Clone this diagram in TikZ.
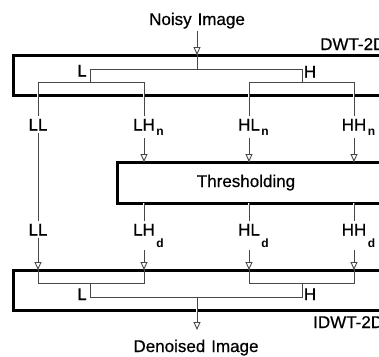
\documentclass[tikz,border=0pt]{standalone}
\usepackage{fontspec}
\setmainfont{Liberation Sans}[FakeBold=0.5]
\newfontfamily\subfont{Liberation Sans Bold}
\usetikzlibrary{arrows.meta}
\newcommand\lowsub[2]{\rlap{\kern1.5pt\raisebox{-#2}{\subfont\fontsize{12}{12}\selectfont #1}}}
\begin{document}
\begin{tikzpicture}[x=1pt,y=-1pt,
  txt/.style={font=\fontsize{17}{17}\selectfont, inner sep=2.5pt},
  boxline/.style={draw=black, line width=3pt, inner sep=0pt, outer sep=0pt},
  thin/.style={draw=black!72, line width=0.9pt},
  gap/.style={preaction={draw=white,line width=2.8pt}},
  tip/.style={-{Triangle[length=8pt,width=7pt,fill=white]}}]
\useasboundingbox (0,0) rectangle (379,356);
\clip (0,0) rectangle (379,356);
\fill[white] (0,0) rectangle (379,356);

% boxes
\node[boxline, minimum width=387pt, minimum height=40pt] (dwt) at (206.5,75) {};
\node[boxline, minimum width=283pt, minimum height=41pt] (thr) at (258.5,182.5) {};
\node[boxline, minimum width=387pt, minimum height=40pt] (idwt) at (206.5,290) {};

% texts
\node[txt, anchor=base] (noisy) at (197,25) {Noisy\hspace{0.35em}Image};
\node[txt, anchor=base west, inner sep=0pt] (dwtlab) at (320,50) {DWT-2D};
\node[txt, anchor=base] (thrlab) at (246,187) {Thresholding};
\node[txt, anchor=base west, inner sep=0pt] (idwtlab) at (313,328) {IDWT-2D};
\node[txt, anchor=base] (denoised) at (196,352) {Denoised\hspace{0.35em}Image};
\node[txt, anchor=base] (L1) at (82,76.5) {L};
\node[txt, anchor=base] (H1) at (310,77.5) {H};
\node[txt, anchor=base] (L2) at (82,300) {L};
\node[txt, anchor=base] (H2) at (310,300) {H};

\node[txt, anchor=base] (LL1) at (38,130.5) {LL};
\node[txt, anchor=base] (LHn) at (144,130.5) {LH\lowsub{n}{5pt}};
\node[txt, anchor=base] (HLn) at (249,130.5) {HL\lowsub{n}{5pt}};
\node[txt, anchor=base] (HHn) at (354,130.5) {HH\lowsub{n}{5pt}};
\node[txt, anchor=base] (LL2) at (38,235.5) {LL};
\node[txt, anchor=base] (LHd) at (144,235.5) {LH\lowsub{d}{12pt}};
\node[txt, anchor=base] (HLd) at (249,235.5) {HL\lowsub{d}{12pt}};
\node[txt, anchor=base] (HHd) at (354,235.5) {HH\lowsub{d}{12pt}};

% DWT inner tree
\coordinate (s0) at (197,69);
\coordinate (aL) at (90,69);
\coordinate (aH) at (302,69);
\coordinate (bL) at (90,82);
\coordinate (bH) at (302,82);
% IDWT inner tree
\coordinate (cL) at (90,283);
\coordinate (cH) at (302,283);
\coordinate (dL) at (90,297);
\coordinate (dH) at (302,297);
\coordinate (d0) at (197,297);
\coordinate (out) at (197,330);

% vertical connectors crossing box lines
\draw[thin,gap,tip] (noisy) -- (noisy |- dwt.north);
\draw[thin,gap] (LL1 |- bL) -- (LL1);
\draw[thin,gap] (LHn |- bL) -- (LHn.north);
\draw[thin,gap] (HLn |- bH) -- (HLn.north);
\draw[thin,gap] (HHn |- bH) -- (HHn.north);
\draw[thin] (LL1) -- (LL2);
\draw[thin,gap,tip] (LHn) -- (LHn |- thr.north);
\draw[thin,gap,tip] (HLn) -- (HLn |- thr.north);
\draw[thin,gap,tip] (HHn) -- (HHn |- thr.north);
\draw[thin,gap] (LHd |- thr.south) -- (LHd.north);
\draw[thin,gap] (HLd |- thr.south) -- (HLd.north);
\draw[thin,gap] (HHd |- thr.south) -- (HHd.north);
\draw[thin,gap,tip] (LL2) -- (LL2 |- idwt.north);
\draw[thin,gap,tip] (LHd) -- (LHd |- idwt.north);
\draw[thin,gap,tip] (HLd) -- (HLd |- idwt.north);
\draw[thin,gap,tip] (HHd) -- (HHd |- idwt.north);
\draw[thin,gap,tip] (d0) -- (out);

% inner trees
\draw[thin] (noisy |- dwt.north) -- (s0);
\draw[thin] (bL) -- (aL) -- (aH) -- (bH);
\draw[thin] (LL1 |- bL) -- (LHn |- bL);
\draw[thin] (HLn |- bH) -- (HHn |- bH);

\draw[thin] (LL2 |- idwt.north) -- (LL2 |- cL) -- (LHd |- cL) -- (LHd |- idwt.north);
\draw[thin] (HLd |- idwt.north) -- (HLd |- cH) -- (HHd |- cH) -- (HHd |- idwt.north);
\draw[thin] (cL) -- (dL) -- (dH) -- (cH);
\end{tikzpicture}
\end{document}
